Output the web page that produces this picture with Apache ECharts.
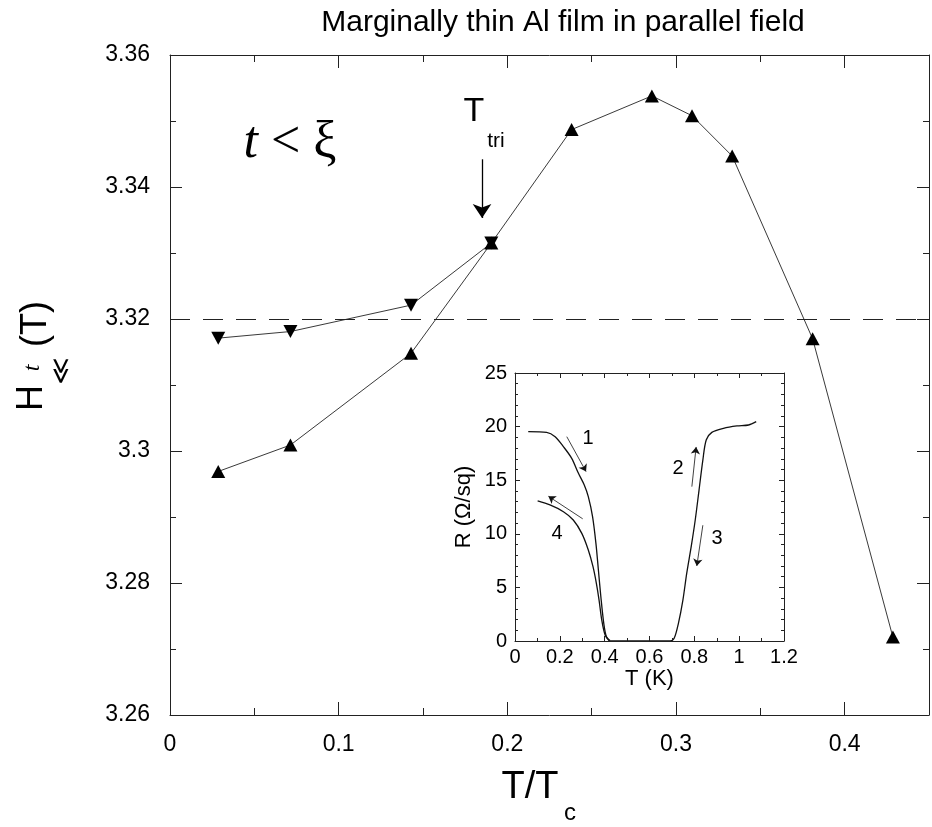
<!DOCTYPE html>
<html><head><meta charset="utf-8">
<script src="https://cdn.jsdelivr.net/npm/echarts/dist/echarts.min.js"></script>
<style>html,body{margin:0;padding:0;background:#fff}#c{width:932px;height:827px}</style>
</head><body><div id="c"></div><script>
// ---- main plot data ----
const downX = [0.0286, 0.0714, 0.1429, 0.1905];
const downY = [3.3171, 3.3181, 3.3221, 3.3315];
const upX = [0.0286, 0.0714, 0.1429, 0.1905, 0.2381, 0.2857, 0.3095, 0.3333, 0.381, 0.4286];
const upY = [3.2969, 3.3009, 3.3148, 3.3315, 3.3487, 3.3538, 3.3508, 3.3447, 3.317, 3.2718];
const dashedLevel = 3.32;
const ttriArrowX = 0.185;
const ttriArrowY = [3.3442, 3.3353];
const mainXTicks = ['0', '0.1', '0.2', '0.3', '0.4'];
const mainYTicks = ['3.26', '3.28', '3.3', '3.32', '3.34', '3.36'];

// ---- inset data: R (Ohm/sq) vs T (K) ----
const c1T = [0.059, 0.141, 0.179, 0.216, 0.253, 0.283, 0.309, 0.327, 0.346, 0.361, 0.372, 0.383, 0.396, 0.408, 0.426];
const c1R = [19.53, 19.46, 19.06, 18.13, 17.04, 15.64, 14.55, 13.46, 11.6, 9.11, 6.62, 4.13, 1.65, 0.4, 0];
const c4T = [0.101, 0.156, 0.216, 0.26, 0.298, 0.327, 0.348, 0.363, 0.375, 0.387, 0.402, 0.421];
const c4R = [13.06, 12.69, 12.06, 11.29, 10.04, 8.49, 6.93, 5.38, 3.82, 1.96, 0.56, 0];
const c23T = [0.426, 0.692, 0.71, 0.729, 0.749, 0.766, 0.786, 0.804, 0.821, 0.838, 0.853, 0.878, 0.93, 0.99, 1.042, 1.076];
const c23R = [0, 0, 0.25, 1.65, 3.82, 6.31, 8.8, 11.29, 14.08, 16.88, 18.75, 19.46, 19.84, 20.06, 20.15, 20.46];
const insetArrows = [
  [[0.231, 19.06], [0.317, 15.8]],
  [[0.789, 14.4], [0.808, 18.1]],
  [[0.838, 10.8], [0.811, 7.0]],
  [[0.302, 11.4], [0.149, 13.5]]
];

const FONT = '"Liberation Sans", Arial, sans-serif';
const zip = (a, b) => a.map((v, i) => [v, b[i]]);
const chart = echarts.init(document.getElementById('c'), null, {renderer: 'canvas'});

function valAxis(extra) {
  return Object.assign({
    type: 'value',
    axisLine: {show: true, onZero: false, lineStyle: {color: '#222', width: 1}},
    splitLine: {show: false},
    axisTick: {show: true, inside: true, lineStyle: {color: '#222'}},
    minorTick: {show: true, lineStyle: {color: '#222'}},
    axisLabel: {color: '#000', fontFamily: FONT}
  }, extra);
}
const tk = (len) => ({show: true, inside: true, length: len, lineStyle: {color: '#222', width: 1}});
const mtk = (n, len) => ({show: true, splitNumber: n, length: len, lineStyle: {color: '#222', width: 1}});

const option = {
  animation: false,
  backgroundColor: '#fff',
  grid: [
    {left: 170, top: 55, right: 1, bottom: 112, show: false},
    {left: 515, top: 373, width: 269, height: 268, show: true, backgroundColor: '#fff', borderWidth: 0, z: 5}
  ],
  xAxis: [
    valAxis({gridIndex: 0, min: 0, max: 0.45, interval: 0.1, position: 'bottom',
      axisTick: tk(13), minorTick: mtk(2, 7),
      axisLabel: {fontSize: 23, margin: 18, color: '#000', fontFamily: FONT,
        formatter: v => mainXTicks[Math.round(v / 0.1)] || ''}}),
    valAxis({gridIndex: 0, min: 0, max: 0.45, interval: 0.1, position: 'top',
      axisTick: tk(13), minorTick: mtk(2, 7), axisLabel: {show: false}}),
    valAxis({gridIndex: 1, min: 0, max: 1.2, interval: 0.2, position: 'bottom', z: 8,
      axisTick: tk(5), minorTick: mtk(2, 3),
      axisLabel: {fontSize: 20, margin: 6, color: '#000', fontFamily: FONT},
      name: 'T (K)', nameLocation: 'middle', nameGap: 24,
      nameTextStyle: {fontSize: 22, color: '#000', fontFamily: FONT}}),
    valAxis({gridIndex: 1, min: 0, max: 1.2, interval: 0.2, position: 'top', z: 8,
      axisTick: tk(5), minorTick: mtk(2, 3), axisLabel: {show: false}})
  ],
  yAxis: [
    valAxis({gridIndex: 0, min: 3.26, max: 3.36, interval: 0.02, position: 'left',
      axisTick: tk(12), minorTick: mtk(2, 6),
      axisLabel: {fontSize: 23, margin: 20, color: '#000', fontFamily: FONT,
        formatter: v => mainYTicks[Math.round((v - 3.26) / 0.02)] || ''}}),
    valAxis({gridIndex: 0, min: 3.26, max: 3.36, interval: 0.02, position: 'right',
      axisTick: tk(12), minorTick: mtk(2, 6), axisLabel: {show: false}}),
    valAxis({gridIndex: 1, min: 0, max: 25, interval: 5, position: 'left', z: 8,
      axisTick: tk(5), minorTick: mtk(5, 3),
      axisLabel: {fontSize: 20, margin: 8, color: '#000', fontFamily: FONT},
      name: 'R (\u03A9/sq)', nameLocation: 'middle', nameGap: 40, nameRotate: 90,
      nameTextStyle: {fontSize: 22, color: '#000', fontFamily: FONT}}),
    valAxis({gridIndex: 1, min: 0, max: 25, interval: 5, position: 'right', z: 8,
      axisTick: tk(5), minorTick: mtk(5, 3), axisLabel: {show: false}})
  ],
  series: [
    {
      type: 'line', xAxisIndex: 0, yAxisIndex: 0, data: zip(upX, upY),
      symbol: 'triangle', symbolSize: [14, 13],
      itemStyle: {color: '#000'}, lineStyle: {color: '#222', width: 0.9},
      z: 3,
      markLine: {silent: true, symbol: ['none', 'none'], label: {show: false},
        lineStyle: {type: [20, 13], color: '#222', width: 1},
        data: [{yAxis: dashedLevel}]}
    },
    {
      type: 'line', xAxisIndex: 0, yAxisIndex: 0, data: zip(downX, downY),
      symbol: 'triangle', symbolRotate: 180, symbolSize: [14, 13],
      itemStyle: {color: '#000'}, lineStyle: {color: '#222', width: 0.9},
      z: 3,
      markLine: {silent: true, symbol: ['none', 'arrow'], symbolSize: 14, label: {show: false},
        lineStyle: {type: 'solid', color: '#000', width: 1.3},
        itemStyle: {color: '#000'},
        data: [[{coord: [ttriArrowX, ttriArrowY[0]]}, {coord: [ttriArrowX, ttriArrowY[1]]}]]}
    },
    {
      type: 'line', xAxisIndex: 2, yAxisIndex: 2, data: zip(c1T, c1R), z: 6,
      symbol: 'none', smooth: 0.3, lineStyle: {color: '#111', width: 1.3},
      markLine: {silent: true, symbol: ['none', 'arrow'], symbolSize: 7, label: {show: false},
        lineStyle: {type: 'solid', color: '#111', width: 0.8},
        itemStyle: {color: '#111'},
        data: insetArrows.map(a => [{coord: a[0]}, {coord: a[1]}])}
    },
    {
      type: 'line', xAxisIndex: 2, yAxisIndex: 2, data: zip(c4T, c4R), z: 6,
      symbol: 'none', smooth: 0.3, lineStyle: {color: '#111', width: 1.3}
    },
    {
      type: 'line', xAxisIndex: 2, yAxisIndex: 2, data: zip(c23T, c23R), z: 6,
      symbol: 'none', smooth: 0.3, lineStyle: {color: '#111', width: 1.3}
    }
  ],
  graphic: [
    {type: 'text', x: 563, y: 23, z: 10, style: {text: 'Marginally thin Al film in parallel field',
      font: '30px ' + FONT, fill: '#000', align: 'center', verticalAlign: 'middle', textAlign: 'center', textVerticalAlign: 'middle'}},
    {type: 'text', x: 290, y: 143, z: 10, style: {text: '{i|t}{r| < \u03BE}',
      align: 'center', verticalAlign: 'middle', textAlign: 'center', textVerticalAlign: 'middle',
      rich: {i: {font: 'italic 52px "Liberation Serif", serif', fill: '#000'},
             r: {font: '52px "Liberation Serif", serif', fill: '#000'}}}},
    {type: 'text', x: 474, y: 112, z: 10, style: {text: 'T', font: '34px ' + FONT, fill: '#000',
      align: 'center', verticalAlign: 'middle', textAlign: 'center', textVerticalAlign: 'middle'}},
    {type: 'text', x: 496, y: 141, z: 10, style: {text: 'tri', font: '21px ' + FONT, fill: '#000',
      align: 'center', verticalAlign: 'middle', textAlign: 'center', textVerticalAlign: 'middle'}},
    // y axis title H^t_c|| (T)
    {type: 'text', x: 32, y: 398, rotation: Math.PI / 2, z: 10, style: {text: 'H', font: '36px ' + FONT, fill: '#000',
      align: 'center', verticalAlign: 'middle', textAlign: 'center', textVerticalAlign: 'middle'}},
    {type: 'text', x: 33, y: 368, rotation: Math.PI / 2, z: 10, style: {text: 't', font: 'italic 24px "Liberation Serif", serif', fill: '#000',
      align: 'center', verticalAlign: 'middle', textAlign: 'center', textVerticalAlign: 'middle'}},
    {type: 'text', x: 62, y: 371, rotation: Math.PI / 2, z: 10, style: {text: '\u226A', font: '26px "DejaVu Sans", sans-serif', fill: '#000',
      align: 'center', verticalAlign: 'middle', textAlign: 'center', textVerticalAlign: 'middle'}},
    {type: 'text', x: 36, y: 324, rotation: Math.PI / 2, z: 10, style: {text: '(T)', font: '36px ' + FONT, fill: '#000',
      align: 'center', verticalAlign: 'middle', textAlign: 'center', textVerticalAlign: 'middle'}},
    // x axis title T/Tc
    {type: 'text', x: 530, y: 788, z: 10, style: {text: 'T/T', font: '38px ' + FONT, fill: '#000',
      align: 'center', verticalAlign: 'middle', textAlign: 'center', textVerticalAlign: 'middle'}},
    {type: 'text', x: 570, y: 813, z: 10, style: {text: 'c', font: '24px ' + FONT, fill: '#000',
      align: 'center', verticalAlign: 'middle', textAlign: 'center', textVerticalAlign: 'middle'}},
    // inset labels
    {type: 'text', x: 588, y: 438, z: 10, style: {text: '1', font: '20px ' + FONT, fill: '#000', align: 'center', verticalAlign: 'middle', textAlign: 'center', textVerticalAlign: 'middle'}},
    {type: 'text', x: 678, y: 468, z: 10, style: {text: '2', font: '20px ' + FONT, fill: '#000', align: 'center', verticalAlign: 'middle', textAlign: 'center', textVerticalAlign: 'middle'}},
    {type: 'text', x: 717, y: 538, z: 10, style: {text: '3', font: '20px ' + FONT, fill: '#000', align: 'center', verticalAlign: 'middle', textAlign: 'center', textVerticalAlign: 'middle'}},
    {type: 'text', x: 557, y: 533, z: 10, style: {text: '4', font: '20px ' + FONT, fill: '#000', align: 'center', verticalAlign: 'middle', textAlign: 'center', textVerticalAlign: 'middle'}}
  ]
};
chart.setOption(option);
</script></body></html>
